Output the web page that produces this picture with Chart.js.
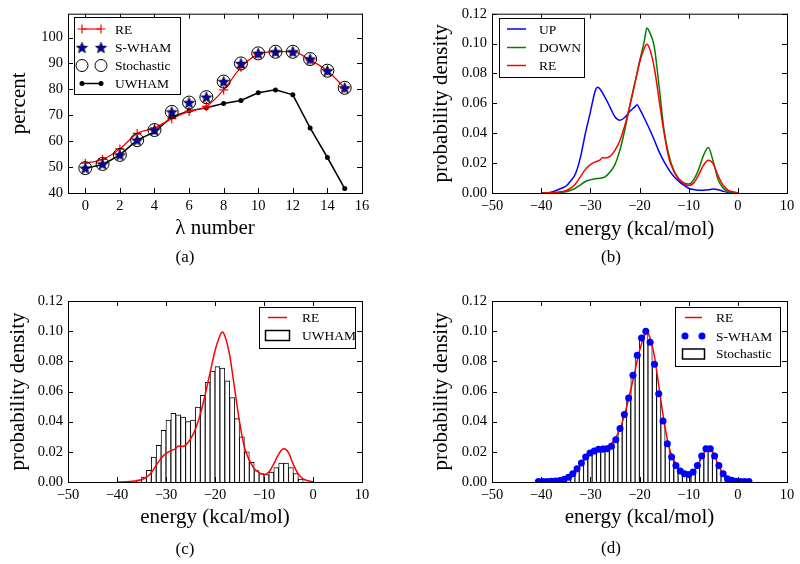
<!DOCTYPE html>
<html>
<head>
<meta charset="utf-8">
<script src="https://cdn.jsdelivr.net/npm/chart.js@4.4.1/dist/chart.umd.min.js"></script>
<style>
  body { margin: 0; background: #fff; }
  #fig { position: relative; width: 800px; height: 564px; overflow: hidden; }
  #fig canvas { position: absolute; }
  .tag { position: absolute; font: 17px 'Liberation Serif', serif; line-height: 17px; transform: translate(-50%, -50%); color: #000; }
</style>
</head>
<body>
<div id="fig">
  <canvas id="panelA" width="400" height="280" style="left:0;top:0"></canvas>
  <canvas id="panelB" width="400" height="280" style="left:400px;top:0"></canvas>
  <canvas id="panelC" width="400" height="284" style="left:0;top:280px"></canvas>
  <canvas id="panelD" width="400" height="284" style="left:400px;top:280px"></canvas>
  <div class="tag" style="left:185px;top:256px">(a)</div>
  <div class="tag" style="left:611px;top:256px">(b)</div>
  <div class="tag" style="left:185px;top:548px">(c)</div>
  <div class="tag" style="left:611px;top:547px">(d)</div>
</div>
<script>
// (a) acceptance per lambda window
const lambdaNumbers = [0, 1, 2, 3, 4, 5, 6, 7, 8, 9, 10, 11, 12, 13, 14, 15];
const reAcceptance = [51.5, 53.0, 57.0, 63.0, 65.1, 68.7, 71.5, 73.4, 79.8, 88.5, 93.6, 94.6, 94.6, 91.3, 87.2, 80.5];
const swhamAcceptance = [49.6, 51.2, 54.7, 60.4, 64.3, 71.3, 74.9, 77.0, 83.0, 90.0, 93.9, 94.5, 94.5, 91.7, 87.2, 80.6];
const stochasticAcceptance = [49.6, 51.2, 54.7, 60.4, 64.3, 71.3, 74.9, 77.0, 83.0, 90.0, 93.9, 94.5, 94.5, 91.7, 87.2, 80.6];
const uwhamAcceptance = [49.6, 50.9, 54.7, 60.4, 63.6, 69.4, 71.7, 72.9, 74.5, 75.7, 78.7, 79.8, 77.9, 65.1, 53.7, 41.7];

// (b) energy distributions
const curveEnergy = [-40, -38, -36, -35, -34, -33, -32, -31, -30, -29, -28.5, -28, -27, -26, -25, -24, -23, -22, -21, -20.5, -20,
  -19, -18.5, -18, -17, -16, -15, -14, -13, -12, -11, -10, -9, -8, -7, -6, -5, -4, -3, -2, -1, 0];
const upDensity = [0, 0.0005, 0.003, 0.0045, 0.008, 0.013, 0.024, 0.040, 0.054, 0.0685, 0.0707, 0.0695, 0.064, 0.0575, 0.051,
  0.0487, 0.0505, 0.0545, 0.0575, 0.059, 0.0565, 0.050, 0.0465, 0.043, 0.0355, 0.0275, 0.021, 0.0155, 0.011, 0.0078, 0.0052,
  0.0032, 0.0023, 0.0019, 0.0019, 0.0021, 0.0027, 0.0022, 0.0012, 0.0004, 0.0001, 0];
const downDensity = [0, 0.0001, 0.0004, 0.0008, 0.0018, 0.0033, 0.0055, 0.0077, 0.0088, 0.0095, 0.0097, 0.0099, 0.0108, 0.014,
  0.019, 0.0285, 0.042, 0.058, 0.073, 0.080, 0.088, 0.102, 0.1105, 0.108, 0.098, 0.071, 0.042, 0.025, 0.015, 0.0095, 0.0068,
  0.006, 0.0088, 0.0155, 0.025, 0.0305, 0.021, 0.0088, 0.0033, 0.001, 0.0002, 0];
const reEnergy = [-40, -38, -36, -35, -34, -33, -32, -31, -30, -29, -28, -27.5, -27, -26, -25, -24, -23, -22, -21, -20, -19,
  -18.5, -18, -17, -16, -15, -14, -13, -12, -11, -10, -9, -8, -7, -6, -5, -4, -3, -2, -1, 0];
const reDensity = [0, 0.0002, 0.0008, 0.0015, 0.0032, 0.0062, 0.011, 0.0158, 0.019, 0.0208, 0.0222, 0.0238, 0.0235, 0.0245,
  0.0285, 0.035, 0.045, 0.058, 0.0725, 0.087, 0.097, 0.0995, 0.097, 0.084, 0.062, 0.040, 0.023, 0.0145, 0.009, 0.0062, 0.005,
  0.0066, 0.012, 0.0185, 0.022, 0.0195, 0.0115, 0.0052, 0.002, 0.0008, 0.0002];

// (c) UWHAM histogram
const uwhamBins = [-36.5, -35.5, -34.5, -33.5, -32.5, -31.5, -30.5, -29.5, -28.5, -27.5, -26.5, -25.5, -24.5, -23.5, -22.5,
  -21.5, -20.5, -19.5, -18.5, -17.5, -16.5, -15.5, -14.5, -13.5, -12.5, -11.5, -10.5, -9.5, -8.5, -7.5, -6.5, -5.5, -4.5, -3.5, -2.5];
const uwhamDensity = [0.0005, 0.0015, 0.0033, 0.0077, 0.0166, 0.0243, 0.0343, 0.041, 0.0455, 0.0445, 0.043, 0.040, 0.041,
  0.0497, 0.0575, 0.066, 0.0735, 0.0765, 0.0755, 0.067, 0.056, 0.042, 0.030, 0.020, 0.013, 0.0075, 0.0055, 0.005, 0.0065,
  0.0095, 0.0125, 0.0125, 0.0095, 0.0055, 0.002];

// (d) S-WHAM points and stochastic histogram
const stochBins = [-40.56, -39.69, -38.81, -37.94, -37.07, -36.19, -35.32, -34.44, -33.57, -32.70, -31.82, -30.95, -30.07,
  -29.20, -28.33, -27.45, -26.58, -25.70, -24.83, -23.96, -23.08, -22.21, -21.33, -20.46, -19.59, -18.71, -17.84, -16.96,
  -16.09, -15.22, -14.34, -13.47, -12.59, -11.72, -10.85, -9.97, -9.10, -8.22, -7.35, -6.48, -5.60, -4.73, -3.85, -2.98,
  -2.11, -1.23, -0.36, 0.52, 1.39, 2.26];
const swhamDensity = [0.0004, 0.0004, 0.0004, 0.0005, 0.0007, 0.001, 0.0018, 0.0032, 0.0055, 0.0088, 0.0126, 0.0166, 0.0192,
  0.0206, 0.0217, 0.0217, 0.0221, 0.0237, 0.028, 0.0354, 0.0447, 0.0557, 0.0707, 0.084, 0.0955, 0.100, 0.0926, 0.078, 0.0585,
  0.0405, 0.0254, 0.0166, 0.011, 0.0073, 0.0055, 0.005, 0.0066, 0.011, 0.0172, 0.022, 0.022, 0.0172, 0.011, 0.0055, 0.0022,
  0.0011, 0.0005, 0.0004, 0.0003, 0.0003];
const stochasticDensity = [0.0004, 0.0004, 0.0004, 0.0005, 0.0007, 0.001, 0.0018, 0.0032, 0.0055, 0.0088, 0.0126, 0.0166, 0.0192,
  0.0206, 0.0217, 0.0217, 0.0221, 0.0237, 0.028, 0.0354, 0.0447, 0.0557, 0.0707, 0.084, 0.0955, 0.100, 0.0926, 0.078, 0.0585,
  0.0405, 0.0254, 0.0166, 0.011, 0.0073, 0.0055, 0.005, 0.0066, 0.011, 0.0172, 0.022, 0.022, 0.0172, 0.011, 0.0055, 0.0022,
  0.0011, 0.0005, 0.0004, 0.0003, 0.0003];

const RED = '#ff0000', BLUE = '#0000ff', GREEN = '#008000';
const SERIF = "'Liberation Serif', 'Times New Roman', serif";

Chart.defaults.font.family = SERIF;
Chart.defaults.color = '#000';
Chart.defaults.animation = false;
Chart.defaults.events = [];
Chart.defaults.plugins.legend.display = false;
Chart.defaults.plugins.tooltip.enabled = false;

const pts = (xs, ys) => xs.map((x, i) => ({ x: x, y: ys[i] }));
const minusLabel = v => (v < 0 ? '\u2212' + Math.abs(v) : String(v));

function makeStar(size, fill) {
  const c = document.createElement('canvas');
  c.width = c.height = size;
  const g = c.getContext('2d');
  const r = size / 2 - 0.6, ri = r * 0.42;
  g.beginPath();
  for (let i = 0; i < 10; i++) {
    const rad = i % 2 ? ri : r;
    const ang = -Math.PI / 2 + i * Math.PI / 5;
    g.lineTo(size / 2 + rad * Math.cos(ang), size / 2 + 0.6 + rad * Math.sin(ang));
  }
  g.closePath();
  g.fillStyle = fill;
  g.fill();
  g.lineWidth = 0.7;
  g.strokeStyle = '#000';
  g.stroke();
  return c;
}
const starMarker = makeStar(13, '#0000b4');

// black frame with inward ticks on all four sides
const frameTicks = {
  id: 'frameTicks',
  afterDatasetsDraw(chart) {
    const { ctx, chartArea: a, scales: { x, y } } = chart;
    ctx.save();
    ctx.strokeStyle = '#000';
    ctx.lineWidth = 1;
    ctx.beginPath();
    x.ticks.forEach(t => {
      const px = Math.round(x.getPixelForValue(t.value)) + 0.5;
      ctx.moveTo(px, a.bottom); ctx.lineTo(px, a.bottom - 5);
      ctx.moveTo(px, a.top); ctx.lineTo(px, a.top + 5);
    });
    y.ticks.forEach(t => {
      const py = Math.round(y.getPixelForValue(t.value)) + 0.5;
      ctx.moveTo(a.left, py); ctx.lineTo(a.left + 5, py);
      ctx.moveTo(a.right, py); ctx.lineTo(a.right - 5, py);
    });
    ctx.stroke();
    ctx.strokeRect(a.left + 0.5, a.top + 0.5, a.right - a.left, a.bottom - a.top);
    ctx.restore();
  }
};

function drawMarker(ctx, kind, x, y, color) {
  ctx.save();
  if (kind === 'cross') {
    ctx.strokeStyle = color; ctx.lineWidth = 1.2;
    ctx.beginPath();
    ctx.moveTo(x - 4.5, y); ctx.lineTo(x + 4.5, y);
    ctx.moveTo(x, y - 4.5); ctx.lineTo(x, y + 4.5);
    ctx.stroke();
  } else if (kind === 'star') {
    ctx.drawImage(starMarker, x - starMarker.width / 2, y - starMarker.height / 2);
  } else if (kind === 'ring') {
    ctx.strokeStyle = '#000'; ctx.lineWidth = 1;
    ctx.beginPath(); ctx.arc(x, y, 6, 0, Math.PI * 2); ctx.stroke();
  } else if (kind === 'dot') {
    ctx.fillStyle = color;
    ctx.beginPath(); ctx.arc(x, y, color === '#000' ? 2.5 : 3.5, 0, Math.PI * 2); ctx.fill();
  }
  ctx.restore();
}

// matplotlib-style boxed legend
const boxLegend = {
  id: 'boxLegend',
  afterDraw(chart, args, opts) {
    if (!opts || !opts.rows) return;
    const ctx = chart.ctx;
    ctx.save();
    ctx.fillStyle = '#fff';
    ctx.fillRect(opts.left, opts.top, opts.width, opts.height);
    ctx.strokeStyle = '#000';
    ctx.lineWidth = 1;
    ctx.strokeRect(opts.left + 0.5, opts.top + 0.5, opts.width, opts.height);
    opts.rows.forEach(r => {
      const x0 = opts.sampleLeft, x1 = opts.sampleRight, y = r.y;
      if (r.patch) {
        ctx.fillStyle = '#fff';
        ctx.fillRect(x0 - 3, y - 5, x1 - x0 + 6, 10);
        ctx.strokeStyle = '#000';
        ctx.strokeRect(x0 - 2.5, y - 4.5, x1 - x0 + 5, 10);
      }
      if (r.line) {
        ctx.strokeStyle = r.color; ctx.lineWidth = r.lineWidth || 1.5;
        ctx.beginPath(); ctx.moveTo(x0, y); ctx.lineTo(x1, y); ctx.stroke();
      }
      if (r.marker) {
        drawMarker(ctx, r.marker, x0, y, r.color);
        drawMarker(ctx, r.marker, x1, y, r.color);
      }
      ctx.fillStyle = '#000';
      ctx.font = '13.5px ' + SERIF;
      ctx.textBaseline = 'middle';
      ctx.fillText(r.text, opts.textLeft, y + 1);
    });
    ctx.restore();
  }
};

Chart.register(frameTicks, boxLegend);

function axes(o) {
  return {
    x: {
      type: 'linear', min: o.xMin, max: o.xMax, offset: false,
      grid: { display: false, drawTicks: false }, border: { display: false },
      ticks: { stepSize: o.xStep, includeBounds: false, autoSkip: false, maxRotation: 0, padding: 4,
        font: { size: 14.5 }, callback: o.xLabel },
      title: { display: true, text: o.xTitle, font: { size: 21 }, padding: { top: 0, bottom: o.xTitleGap } },
      afterFit: s => { s.height = o.xHeight; }
    },
    y: {
      type: 'linear', min: o.yMin, max: o.yMax,
      grid: { display: false, drawTicks: false }, border: { display: false },
      ticks: { stepSize: o.yStep, includeBounds: false, padding: 5, font: { size: 14.5 }, callback: o.yLabel },
      title: { display: true, text: o.yTitle, font: { size: 21 }, padding: { top: o.yTitleGap, bottom: 0 } },
      afterFit: s => { s.width = o.yWidth; }
    }
  };
}

const densityTicks = v => v.toFixed(2);

// (a)
new Chart(document.getElementById('panelA'), {
  type: 'line',
  data: {
    datasets: [
      { label: 'RE', data: pts(lambdaNumbers, reAcceptance), borderColor: RED, borderWidth: 1.3,
        pointStyle: 'cross', pointRadius: 4.5, pointBorderColor: RED, pointBorderWidth: 1.2,
        cubicInterpolationMode: 'monotone', order: 2 },
      { label: 'S-WHAM', data: pts(lambdaNumbers, swhamAcceptance), showLine: false,
        pointStyle: starMarker, pointRadius: 6, order: 0 },
      { label: 'Stochastic', data: pts(lambdaNumbers, stochasticAcceptance), showLine: false,
        pointStyle: 'circle', pointRadius: 6.5, pointBackgroundColor: 'rgba(0,0,0,0)',
        pointBorderColor: '#000', pointBorderWidth: 1, order: 1 },
      { label: 'UWHAM', data: pts(lambdaNumbers, uwhamAcceptance), borderColor: '#000', borderWidth: 1.5,
        pointRadius: 2.5, pointBackgroundColor: '#000', pointBorderColor: '#000', pointBorderWidth: 0, order: 3 }
    ]
  },
  options: {
    responsive: false,
    layout: { padding: { top: 13, right: 38, left: 0, bottom: 0 } },
    scales: axes({ xMin: -1, xMax: 16, xStep: 2, xTitle: '\u03bb number', xTitleGap: 39, xHeight: 87,
      yMin: 40, yMax: 109.2, yStep: 10, yTitle: 'percent', yTitleGap: 7, yWidth: 68 }),
    plugins: {
      boxLegend: {
        left: 74, top: 17, width: 106, height: 77, sampleLeft: 82, sampleRight: 101, textLeft: 115,
        rows: [
          { text: 'RE', y: 29, line: true, color: RED, lineWidth: 1.2, marker: 'cross' },
          { text: 'S-WHAM', y: 47.5, marker: 'star' },
          { text: 'Stochastic', y: 65.5, marker: 'ring' },
          { text: 'UWHAM', y: 83.5, line: true, color: '#000', marker: 'dot' }
        ]
      }
    }
  }
});

// (b)
new Chart(document.getElementById('panelB'), {
  type: 'line',
  data: {
    datasets: [
      { label: 'UP', data: pts(curveEnergy, upDensity), borderColor: BLUE, order: 2 },
      { label: 'DOWN', data: pts(curveEnergy, downDensity), borderColor: GREEN, order: 1 },
      { label: 'RE', data: pts(reEnergy, reDensity), borderColor: RED, order: 0 }
    ]
  },
  options: {
    responsive: false,
    elements: { point: { radius: 0 }, line: { borderWidth: 1.5, cubicInterpolationMode: 'monotone' } },
    layout: { padding: { top: 12, right: 13, left: 0, bottom: 0 } },
    scales: axes({ xMin: -50, xMax: 10, xStep: 10, xLabel: minusLabel, xTitle: 'energy (kcal/mol)', xTitleGap: 38, xHeight: 87,
      yMin: 0, yMax: 0.12, yStep: 0.02, yLabel: densityTicks, yTitle: 'probability density', yTitleGap: 29, yWidth: 92 }),
    plugins: {
      boxLegend: {
        left: 99, top: 18, width: 85, height: 59, sampleLeft: 107, sampleRight: 126, textLeft: 139,
        rows: [
          { text: 'UP', y: 29, line: true, color: BLUE },
          { text: 'DOWN', y: 47.5, line: true, color: GREEN },
          { text: 'RE', y: 65.5, line: true, color: RED }
        ]
      }
    }
  }
});

const barStyle = {
  backgroundColor: '#fff', borderColor: '#000',
  borderWidth: { top: 1, left: 0.9, right: 0.9, bottom: 0 }, borderSkipped: 'start',
  barPercentage: 1, categoryPercentage: 1
};

// (c)
new Chart(document.getElementById('panelC'), {
  type: 'bar',
  data: {
    datasets: [
      { type: 'line', label: 'RE', data: pts(reEnergy, reDensity), borderColor: RED, borderWidth: 1.5,
        pointRadius: 0, cubicInterpolationMode: 'monotone', order: 0 },
      Object.assign({ type: 'bar', label: 'UWHAM', data: pts(uwhamBins, uwhamDensity), order: 1 }, barStyle)
    ]
  },
  options: {
    responsive: false,
    layout: { padding: { top: 21, right: 38, left: 0, bottom: 0 } },
    scales: axes({ xMin: -50, xMax: 10, xStep: 10, xLabel: minusLabel, xTitle: 'energy (kcal/mol)', xTitleGap: 34, xHeight: 82,
      yMin: 0, yMax: 0.12, yStep: 0.02, yLabel: densityTicks, yTitle: 'probability density', yTitleGap: 6, yWidth: 68 }),
    plugins: {
      boxLegend: {
        left: 259, top: 27, width: 96, height: 41, sampleLeft: 268, sampleRight: 287, textLeft: 302,
        rows: [
          { text: 'RE', y: 37.5, line: true, color: RED },
          { text: 'UWHAM', y: 55, patch: true }
        ]
      }
    }
  }
});

// (d)
new Chart(document.getElementById('panelD'), {
  type: 'bar',
  data: {
    datasets: [
      { type: 'line', label: 'S-WHAM', data: pts(stochBins, swhamDensity), showLine: false,
        pointRadius: 3.5, pointBackgroundColor: BLUE, pointBorderWidth: 0, order: 0 },
      { type: 'line', label: 'RE', data: pts(reEnergy, reDensity), borderColor: RED, borderWidth: 1.5,
        pointRadius: 0, cubicInterpolationMode: 'monotone', order: 1 },
      Object.assign({ type: 'bar', label: 'Stochastic', data: pts(stochBins, stochasticDensity), order: 2 }, barStyle)
    ]
  },
  options: {
    responsive: false,
    layout: { padding: { top: 21, right: 13, left: 0, bottom: 0 } },
    scales: axes({ xMin: -50, xMax: 10, xStep: 10, xLabel: minusLabel, xTitle: 'energy (kcal/mol)', xTitleGap: 34, xHeight: 82,
      yMin: 0, yMax: 0.12, yStep: 0.02, yLabel: densityTicks, yTitle: 'probability density', yTitleGap: 29, yWidth: 92 }),
    plugins: {
      boxLegend: {
        left: 275, top: 27, width: 105, height: 59, sampleLeft: 285, sampleRight: 302, textLeft: 316,
        rows: [
          { text: 'RE', y: 37.5, line: true, color: RED },
          { text: 'S-WHAM', y: 56, marker: 'dot', color: BLUE },
          { text: 'Stochastic', y: 73.5, patch: true }
        ]
      }
    }
  }
});
</script>
</body>
</html>
